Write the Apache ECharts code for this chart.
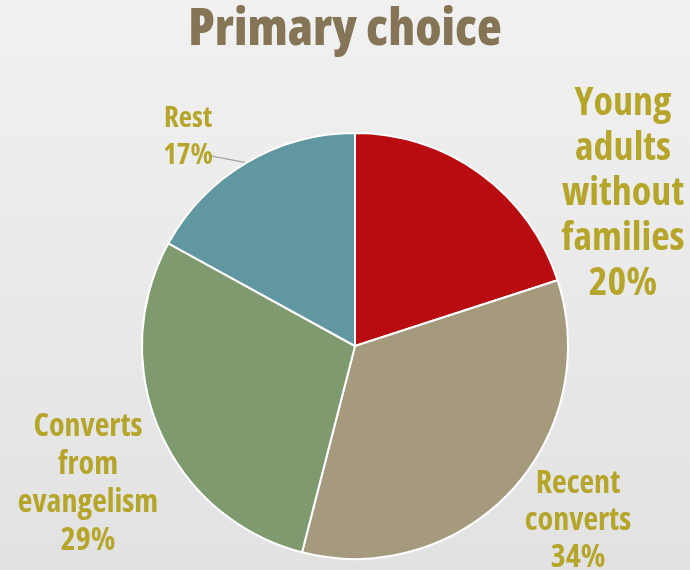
<!DOCTYPE html>
<html><head><meta charset="utf-8">
<script src="https://cdn.jsdelivr.net/npm/echarts@6/dist/echarts.min.js"></script>
<style>html,body{margin:0;padding:0;}#c{width:690px;height:570px;}</style>
</head><body><div id="c"></div>
<script>
const categories = ['Young\nadults\nwithout\nfamilies', 'Recent\nconverts', 'Converts\nfrom\nevangelism', 'Rest'];
const values = [20, 34, 29, 17];
const colors = ['#B80C10', '#A59A7E', '#7E9A6E', '#6197A0'];
const labelPos = [[623, 194], [578, 521], [88, 484], [188, 137]];
const labelSizes = [[40, 45], [32, 37], [32, 38], [29, 37]];
const FONT = '"Open Sans", sans-serif';
const WEIGHT = 'bold condensed';

const chart = echarts.init(document.getElementById('c'));
chart.setOption({
  backgroundColor: {
    type: 'linear', x: 0, y: 0, x2: 0, y2: 1,
    colorStops: [{offset: 0, color: '#F1F1F1'}, {offset: 1, color: '#E2E2E2'}]
  },
  title: {
    text: 'Primary choice', left: 'center', top: 0,
    textStyle: {fontFamily: FONT, fontWeight: '800 condensed', fontSize: 51, color: '#857556'}
  },
  series: [{
    type: 'pie',
    center: [355, 346],
    radius: 213,
    startAngle: 90,
    clockwise: true,
    animation: false,
    itemStyle: {borderColor: '#FFFFFF', borderWidth: 2},
    label: {
      show: true, position: 'outside', overflow: 'none',
      formatter: p => p.name + '\n' + p.value + '%',
      fontFamily: FONT, fontWeight: WEIGHT, color: '#B5A52A', align: 'center'
    },
    labelLine: {show: true, lineStyle: {color: '#A0A0A0', width: 1.2}},
    labelLayout: p => {
      const pos = labelPos[p.dataIndex];
      const out = {x: pos[0], y: pos[1], align: 'center', verticalAlign: 'middle'};
      if (p.labelLinePoints && p.dataIndex === 3) {
        const a = p.labelLinePoints[0];
        const endX = pos[0] + p.labelRect.width / 2 - 4;
        const endY = pos[1] + p.labelRect.height / 4;
        out.labelLinePoints = [a, [(a[0] + endX) / 2, (a[1] + endY) / 2], [endX, endY]];
      }
      return out;
    },
    data: categories.map((c, i) => ({
      name: c, value: values[i],
      itemStyle: {color: colors[i]},
      label: {fontSize: labelSizes[i][0], lineHeight: labelSizes[i][1]},
      labelLine: {show: i === 3}
    }))
  }]
});
</script></body></html>
